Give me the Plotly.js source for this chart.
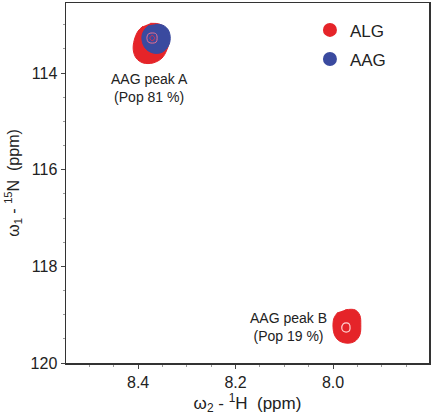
<!DOCTYPE html>
<html><head><meta charset="utf-8">
<script src="https://cdn.plot.ly/plotly-3.0.1.min.js"></script>
<style>body{margin:0;background:#fff}#c{width:432px;height:416px}</style>
</head><body><div id="c"></div>
<script>
// Contour outlines (ppm: x = 1H, y = 15N)
const peakA_ALG_x = [8.375, 8.355, 8.341, 8.336, 8.341, 8.351, 8.369, 8.390, 8.404, 8.410, 8.408, 8.400, 8.390];
const peakA_ALG_y = [112.97, 112.99, 113.11, 113.32, 113.52, 113.69, 113.79, 113.79, 113.69, 113.52, 113.32, 113.13, 113.03];
const peakA_AAG_x = [8.365, 8.349, 8.338, 8.334, 8.338, 8.351, 8.367, 8.382, 8.390, 8.392, 8.386, 8.377];
const peakA_AAG_y = [112.99, 113.01, 113.11, 113.28, 113.44, 113.57, 113.59, 113.52, 113.40, 113.23, 113.09, 113.01];
const peakA_ring1_x = [8.371, 8.363, 8.361, 8.363, 8.371, 8.379, 8.382, 8.379, 8.371];
const peakA_ring1_y = [113.17, 113.19, 113.28, 113.36, 113.38, 113.36, 113.28, 113.19, 113.17];
const peakA_ring2_x = [8.371, 8.366, 8.371, 8.376, 8.371];
const peakA_ring2_y = [113.22, 113.28, 113.33, 113.28, 113.22];
const peakB_ALG_x = [7.975, 7.955, 7.945, 7.943, 7.945, 7.955, 7.969, 7.986, 7.996, 8.000, 7.998, 7.990];
const peakB_ALG_y = [118.90, 118.90, 119.01, 119.21, 119.42, 119.55, 119.59, 119.55, 119.44, 119.26, 119.07, 118.95];
const peakB_ring_x = [7.973, 7.967, 7.965, 7.967, 7.973, 7.979, 7.982, 7.979, 7.973];
const peakB_ring_y = [119.17, 119.19, 119.28, 119.34, 119.36, 119.34, 119.28, 119.19, 119.17];

const seriesNames = ['ALG', 'AAG'];
const labelText = ['AAG peak A<br>(Pop 81 %)', 'AAG peak B<br>(Pop 19 %)'];
const labelX = [8.376, 8.092];
const labelY = [113.92, 119.25];

const RED = '#e52429', BLUE = '#3a4a9f';
const poly = (x, y, fill, line, lw) => ({
  type: 'scatter', mode: 'lines', x: x, y: y, fill: 'toself', fillcolor: fill,
  line: {color: line, width: lw, shape: 'spline'}, showlegend: false, hoverinfo: 'skip'
});
const ring = (x, y, c, w) => ({
  type: 'scatter', mode: 'lines', x: x, y: y, line: {color: c, width: w, shape: 'spline'},
  showlegend: false, hoverinfo: 'skip'
});

const data = [
  poly(peakA_ALG_x, peakA_ALG_y, RED, RED, 1),
  poly(peakB_ALG_x, peakB_ALG_y, RED, RED, 1),
  poly(peakA_AAG_x, peakA_AAG_y, BLUE, BLUE, 1),
  ring(peakA_ring1_x, peakA_ring1_y, '#e8708f', 1),
  ring(peakA_ring2_x, peakA_ring2_y, '#e0304a', 1),
  ring(peakB_ring_x, peakB_ring_y, '#ffd0d0', 1.2),
  {type: 'scatter', mode: 'markers', x: [null], y: [null], name: seriesNames[0],
   marker: {color: RED, size: 14}, legendgroup: 'a'},
  {type: 'scatter', mode: 'markers', x: [null], y: [null], name: seriesNames[1],
   marker: {color: BLUE, size: 14}, legendgroup: 'b'}
];

const FONT = 'Liberation Sans, Arial, sans-serif';
const layout = {
  width: 432, height: 416,
  margin: {l: 66, r: 3, t: 3, b: 53},
  paper_bgcolor: '#fff', plot_bgcolor: '#fff',
  font: {family: FONT, color: '#222', size: 16},
  showlegend: true,
  legend: {x: 0.672, y: 0.974, xanchor: 'left', yanchor: 'top', bgcolor: 'rgba(0,0,0,0)',
           font: {size: 17, color: '#222'}, tracegroupgap: 4},
  xaxis: {
    range: [8.548, 7.803], dtick: 0.2, tick0: 8.0, tickformat: '.1f',
    showgrid: false, zeroline: false, showline: true, linecolor: '#333', linewidth: 1.5,
    mirror: true, ticks: 'outside', ticklen: 4, tickcolor: '#444',
    minor: {dtick: 0.05, ticks: 'outside', ticklen: 2, tickcolor: '#999'},
    tickfont: {size: 16},
    title: {text: 'ω<sub>2</sub> - <sup>1</sup>H  (ppm)', font: {size: 17}, standoff: 5}
  },
  yaxis: {
    range: [120, 112.55], dtick: 2, tick0: 114,
    showgrid: false, zeroline: false, showline: true, linecolor: '#333', linewidth: 1.5,
    mirror: true, ticks: 'outside', ticklen: 4, tickcolor: '#444',
    minor: {dtick: 0.5, ticks: 'outside', ticklen: 2, tickcolor: '#999'},
    tickfont: {size: 16},
    title: {text: 'ω<sub>1</sub> - <sup>15</sup>N  (ppm)', font: {size: 16}, standoff: 7}
  },
  annotations: labelText.map((t, i) => ({
    x: labelX[i], y: labelY[i], xref: 'x', yref: 'y', text: t, showarrow: false,
    align: 'center', font: {size: 14, color: '#222'}, yanchor: 'top'
  }))
};
layout.annotations[1].yanchor = 'middle';
Plotly.newPlot('c', data, layout, {displayModeBar: false, staticPlot: true});
</script></body></html>
